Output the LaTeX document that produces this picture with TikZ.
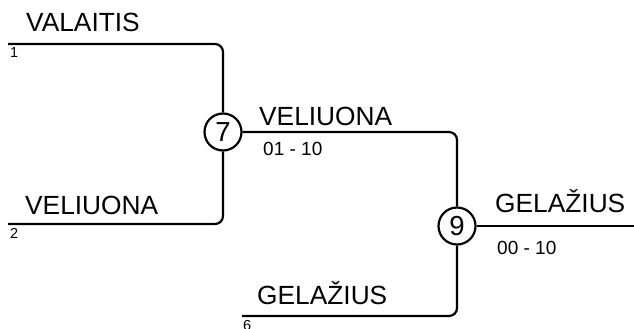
\documentclass[tikz,border=0pt]{standalone}
\usepackage{fontspec}
\setmainfont{Liberation Sans}
\begin{document}
\begin{tikzpicture}[x=1pt,y=-1pt,
  wire/.style={line width=2.2pt, rounded corners=8pt},
  team/.style={anchor=base west, inner sep=0pt, font=\fontsize{26.3}{30}\selectfont},
  score/.style={anchor=base west, inner sep=0pt, font=\fontsize{19}{22}\selectfont},
  seed/.style={anchor=base west, inner sep=0pt, font=\fontsize{14.5}{16}\selectfont},
  game/.style={circle, draw, line width=2.2pt, minimum size=37pt, inner sep=0pt, font=\fontsize{27.5}{30}\selectfont}]
\useasboundingbox (0,0) rectangle (634,329);
\node[game] (c7) at (223,132) {7};
\node[game] (c9) at (457,226) {9};
\coordinate (s1) at (8,44);
\coordinate (s2) at (8,224);
\coordinate (s6) at (242,316);
\coordinate (fin) at (634,226);
\draw[wire] (s1) -| (c7);
\draw[wire] (s2) -| (c7);
\draw[wire] (c7) -| (c9);
\draw[wire] (s6) -| (c9);
\draw[wire] (c9) -- (fin);
\node[team] (t1) at (26,32) {VALAITIS};
\node[team] (t2) at (25,214) {VELIUONA};
\node[team] (t7) at (259,125) {VELIUONA};
\node[team] (t6) at (257,304) {GELAŽIUS};
\node[team] (t9) at (495,212) {GELAŽIUS};
\node[score] (r7) at (263,155.5) {01 - 10};
\node[score] (r9) at (497,254) {00 - 10};
\node[seed] (n1) at (10,57) {1};
\node[seed] (n2) at (10,238) {2};
\node[seed] (n6) at (243,330) {6};
\end{tikzpicture}
\end{document}
